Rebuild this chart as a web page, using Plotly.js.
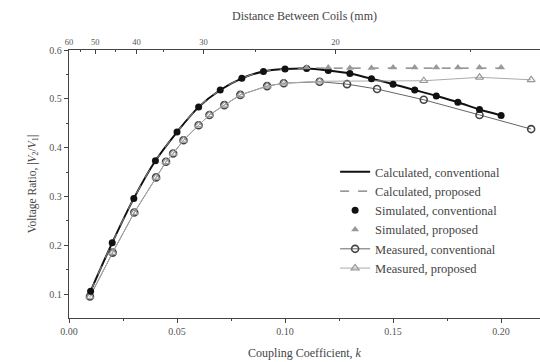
<!DOCTYPE html>
<html>
<head>
<meta charset="utf-8">
<script src="https://cdn.plot.ly/plotly-3.0.1.min.js"></script>
<style>html,body{margin:0;padding:0;background:#fff;}#chart{width:540px;height:362px;}</style>
</head>
<body>
<div id="chart"></div>
<script>
// Coupling coefficient grid for calculated / simulated curves
const kGrid = [0.01,0.02,0.03,0.04,0.05,0.06,0.07,0.08,0.09,0.10,0.11,0.12,0.13,0.14,0.15,0.16,0.17,0.18,0.19,0.20];
const calcConventional = [0.106,0.205,0.296,0.373,0.432,0.483,0.518,0.542,0.556,0.561,0.562,0.558,0.552,0.541,0.530,0.518,0.506,0.493,0.478,0.466];
const calcProposed     = [0.106,0.205,0.296,0.373,0.432,0.483,0.518,0.542,0.556,0.561,0.563,0.563,0.563,0.563,0.563,0.563,0.563,0.563,0.563,0.563];
const simConventional  = [0.106,0.205,0.296,0.373,0.432,0.483,0.518,0.542,0.556,0.561,0.562,0.558,0.552,0.541,0.530,0.518,0.506,0.493,0.478,0.466];
const kSimProposed = [0.11,0.12,0.13,0.14,0.15,0.16,0.17,0.18,0.19,0.20];
const simProposed  = [0.564,0.564,0.563,0.563,0.564,0.564,0.564,0.564,0.564,0.564];
// Measured
const kMeasConv = [0.0097,0.0202,0.0302,0.0403,0.0449,0.0482,0.0530,0.0600,0.0650,0.0719,0.0793,0.0917,0.0994,0.1160,0.1287,0.1426,0.1642,0.1900,0.2139];
const measConventional = [0.095,0.185,0.267,0.339,0.371,0.388,0.415,0.446,0.467,0.487,0.508,0.526,0.532,0.535,0.530,0.520,0.498,0.467,0.438];
const kMeasProp = [0.0097,0.0202,0.0302,0.0403,0.0449,0.0482,0.0530,0.0600,0.0650,0.0719,0.0793,0.0917,0.0994,0.1160,0.1642,0.1900,0.2139];
const measProposed = [0.095,0.185,0.267,0.339,0.371,0.388,0.415,0.446,0.467,0.487,0.508,0.526,0.532,0.536,0.537,0.544,0.539];
// Top axis: distance between coils (mm) and the coupling coefficient it corresponds to
const distanceLabels = ['60','50','40','30','20'];
const distanceK = [0.0, 0.0122, 0.0312, 0.0622, 0.1233];
const distanceMinorK = [0.0052, 0.0214, 0.0437, 0.0863, 0.1858];
const xTicks = [0, 0.05, 0.10, 0.15, 0.20];
const xTickText = ['0.00','0.05','0.10','0.15','0.20'];
const yTicks = [0.1,0.2,0.3,0.4,0.5,0.6];

const FONT = '"Liberation Serif", "Times New Roman", serif';
const TXT = '#444';
const f = (size, color) => ({family:FONT, size:size, color:color || TXT});

const traces = [
  {x:kGrid, y:calcConventional, name:'Calculated, conventional', mode:'lines', line:{color:'#111', width:2, shape:'spline'}, legendrank:1},
  {x:kGrid, y:calcProposed, name:'Calculated, proposed', mode:'lines', line:{color:'#777', width:1.2, dash:'dash', shape:'spline'}, legendrank:2},
  {x:kMeasConv, y:measConventional, name:'Measured, conventional', mode:'lines+markers', line:{color:'#666', width:1},
   marker:{symbol:'circle-open', size:7, color:'#444', line:{width:1.6}}, legendrank:5},
  {x:kMeasProp, y:measProposed, name:'Measured, proposed', mode:'lines+markers', line:{color:'#aaa', width:1},
   marker:{symbol:'triangle-up-open', size:7, color:'#999', line:{width:1.2}}, legendrank:6},
  {x:kGrid, y:simConventional, name:'Simulated, conventional', mode:'markers', marker:{symbol:'circle', size:7, color:'#111'}, legendrank:3},
  {x:kSimProposed, y:simProposed, name:'Simulated, proposed', mode:'markers', marker:{symbol:'triangle-up', size:7, color:'#999'}, legendrank:4},
  {x:distanceK, y:distanceK.map(()=>0.6), xaxis:'x2', yaxis:'y', mode:'markers', marker:{opacity:0}, showlegend:false, hoverinfo:'skip'}
];

const layout = {
  width:540, height:362,
  margin:{l:69, r:0, t:50, b:44},
  paper_bgcolor:'#fff', plot_bgcolor:'#fff',
  font:f(10),
  showlegend:true,
  legend:{x:0.565, y:0.60, xanchor:'left', yanchor:'top', bgcolor:'rgba(255,255,255,0)',
          font:f(12.5), tracegroupgap:0, itemwidth:30},
  xaxis:{range:[0,0.218], tickvals:xTicks, ticktext:xTickText, showline:true, linecolor:'#444', linewidth:1.2,
         color:'#555', ticks:'outside', ticklen:4, tickcolor:'#444', showgrid:false, zeroline:false,
         minor:{tickvals:[0.025,0.075,0.125,0.175], ticks:'outside', ticklen:2, tickcolor:'#444'},
         title:{text:'Coupling Coefficient, <i>k</i>', font:f(12), standoff:12},
         tickfont:f(10,'#555')},
  xaxis2:{overlaying:'x', side:'top', anchor:'y', range:[0,0.218], tickvals:distanceK, ticktext:distanceLabels,
          color:'#555', showline:true, linecolor:'#444', linewidth:1.2, ticks:'inside', ticklen:4, tickcolor:'#444',
          showgrid:false, zeroline:false,
          minor:{tickvals:distanceMinorK, ticks:'inside', ticklen:2, tickcolor:'#444'},
          tickfont:f(8.5,'#555'),
          title:{text:'Distance Between Coils (mm)', font:f(12), standoff:14}},
  yaxis:{range:[0.051,0.6], tickvals:yTicks, showline:true, linecolor:'#444', linewidth:1.2, color:'#555',
         ticks:'outside', ticklen:4, tickcolor:'#444', showgrid:false, zeroline:false,
         minor:{dtick:0.05, tick0:0.05, ticks:'outside', ticklen:2, tickcolor:'#444'},
         tickfont:f(10,'#555'),
         title:{text:'Voltage Ratio, |<i>V</i><sub>2</sub>/<i>V</i><sub>1</sub>|', font:f(11.5), standoff:10}}
};
Plotly.newPlot('chart', traces, layout, {displayModeBar:false, staticPlot:true});
</script>
</body>
</html>
